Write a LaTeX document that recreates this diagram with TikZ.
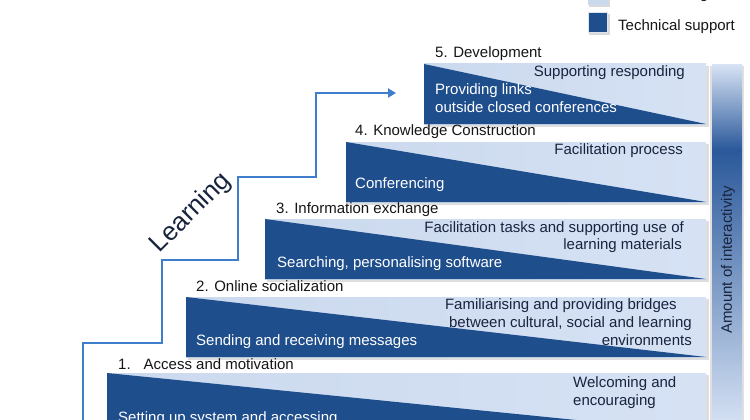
\documentclass[tikz,border=0pt]{standalone}
\usepackage{fontspec}
\setmainfont{Liberation Sans}
\usetikzlibrary{arrows.meta}
\definecolor{dkblue}{RGB}{31,78,141}
\definecolor{ltblue}{RGB}{203,217,238}
\definecolor{ltblueR}{RGB}{214,226,244}
\definecolor{arrblue}{RGB}{62,126,204}
\definecolor{navytxt}{RGB}{24,36,62}
\definecolor{labtxt}{RGB}{22,22,22}
\definecolor{barlight}{RGB}{214,226,244}
\definecolor{bardark}{RGB}{42,88,154}
\newcommand\stagebox[2]{%
  \fill[black,opacity=0.13] (#1+2,#2+2) rectangle (709,#2+63);
  \shade[left color=ltblue,right color=ltblueR] (#1,#2) rectangle (706,#2+60);
  \fill[dkblue] (#1,#2) -- (#1,#2+60) -- (706,#2+60) -- cycle;
}
\begin{document}
\begin{tikzpicture}[x=1pt,y=-1pt,
  boxtxt/.style={font=\fontsize{15}{18}\selectfont, inner sep=0pt},
  lighttxt/.style={boxtxt, text=navytxt},
  darktxt/.style={boxtxt, text=white},
  labeltxt/.style={boxtxt, text=labtxt},
  flow/.style={draw=arrblue, line width=2.4pt, -{Triangle[length=8pt,width=9pt]}}
]
\clip (0,0) rectangle (750,420);
\fill[white] (0,0) rectangle (750,420);

% legend
\fill[black,opacity=0.15] (589,-14) rectangle (610,7);
\fill[ltblue] (588,-15) rectangle (608,5);
\node[labeltxt, anchor=base west] (legA) at (618,-1) {E-moderating};
\fill[black,opacity=0.15] (589,14) rectangle (610,35);
\filldraw[fill=dkblue, draw=white!85!dkblue, line width=1pt] (588,13) rectangle (607,33);
\node[labeltxt, anchor=base west] (legB) at (618,31) {Technical support};

% interactivity bar
\fill[black,opacity=0.12] (710,66) rectangle (744,430);
\shade[top color=barlight, bottom color=bardark] (712,65) rectangle (742,150);
\shade[top color=bardark, bottom color=barlight] (712,150) rectangle (742,425);
\node[lighttxt, rotate=90] (amt) at (728,260) {Amount of interactivity};

% stages
\stagebox{424}{64}
\stagebox{346}{142}
\stagebox{265}{219}
\stagebox{186}{297}
\stagebox{107}{373}

% stage 5
\node[labeltxt, anchor=base west] (l5) at (435,58) {5. Development};
\node[lighttxt, anchor=base east] (t5a) at (685,77) {Supporting responding};
\node[darktxt, anchor=base west] (t5b) at (435,94.5) {Providing links};
\node[darktxt, anchor=base west] (t5c) at (435,112) {outside closed conferences};

% stage 4
\node[labeltxt, anchor=base west] (l4) at (355,135.5) {4. Knowledge Construction};
\node[lighttxt, anchor=base east] (t4a) at (683,154) {Facilitation process};
\node[darktxt, anchor=base west] (t4b) at (355,188.5) {Conferencing};

% stage 3
\node[labeltxt, anchor=base west] (l3) at (276,213.5) {3. Information exchange};
\node[lighttxt, anchor=base east] (t3a) at (684,232.5) {Facilitation tasks and supporting use of};
\node[lighttxt, anchor=base east] (t3b) at (682,249.5) {learning materials};
\node[darktxt, anchor=base west] (t3c) at (277,267.5) {Searching, personalising software};

% stage 2
\node[labeltxt, anchor=base west] (l2) at (196,291.5) {2. Online socialization};
\node[lighttxt, anchor=base east] (t2a) at (677,309) {Familiarising and providing bridges};
\node[lighttxt, anchor=base east] (t2b) at (692,327) {between cultural, social and learning};
\node[lighttxt, anchor=base east] (t2c) at (692,345) {environments};
\node[darktxt, anchor=base west] (t2d) at (196,345) {Sending and receiving messages};

% stage 1
\node[labeltxt, anchor=base west] (l1) at (118,369) {1.\hspace{13pt}Access and motivation};
\node[lighttxt, anchor=base west] (t1a) at (573,387) {Welcoming and};
\node[lighttxt, anchor=base west] (t1b) at (573,405) {encouraging};
\node[darktxt, anchor=base west] (t1c) at (118,422) {Setting up system and accessing};

% learning staircase arrow
\coordinate (s0) at (83,425);
\coordinate (s2) at (162,343);
\coordinate (s4) at (238,260);
\coordinate (s6) at (316,177);
\coordinate (s8) at (396,93);
\draw[flow] (s0) |- (s2) |- (s4) |- (s6) |- (s8);
\node[font=\fontsize{26}{30}\selectfont, text=navytxt, rotate=45, inner sep=0pt] (learn) at (191,213) {Learning};
\end{tikzpicture}
\end{document}
